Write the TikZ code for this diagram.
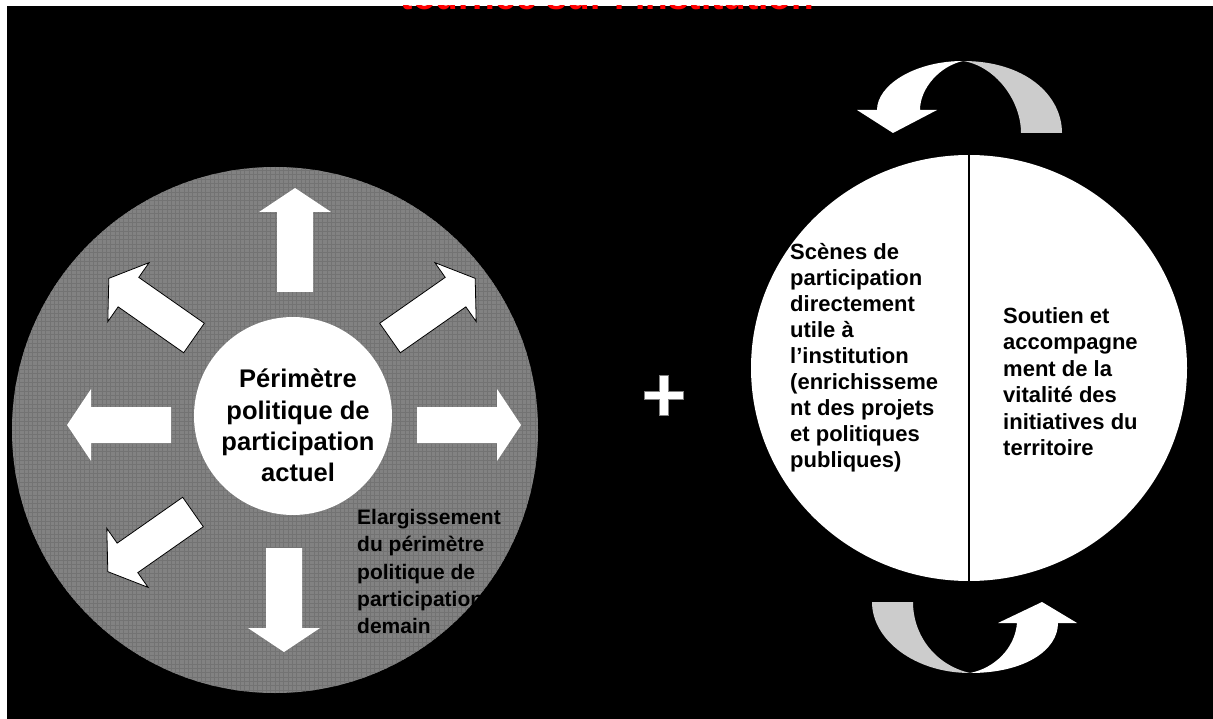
\documentclass[tikz,border=0pt]{standalone}
\usepackage{fontspec}
\setmainfont{Liberation Sans}
\usetikzlibrary{shapes.geometric}

\definecolor{ribbongray}{RGB}{204,204,204}
\definecolor{discgray}{RGB}{130,130,130}

% block arrow: base point, direction angle
\newcommand\outarrow[3][]{%
  \draw[blockarrow,#1,shift={#2},rotate=#3]
    (0,-18) -- (80,-18) -- (80,-36) -- (104,0) -- (80,36) -- (80,18) -- (0,18) -- cycle;}

\begin{document}
\begin{tikzpicture}[x=1pt,y=-1pt,
    blockarrow/.style={fill=white,draw=none},
    rimmed/.style={draw=black,line width=0.8pt},
    label/.style={font=\fontsize{22}{26}\selectfont\bfseries,align=left,inner sep=0pt,anchor=north west}]
    \useasboundingbox (0,0) rectangle (1213,719);
    \fill[white] (0,0) rectangle (1213,719);
    \fill[black] (7,6) rectangle (1213,719);

    % Title, cut by the top edge
    \begin{scope}
      \clip (7,6) rectangle (1213,719);
      \node[red,anchor=base,inner sep=0pt,font=\fontsize{37}{40}\selectfont\bfseries] (titre) at (607.5,10) {tournée sur l'institution};
    \end{scope}

    % Left disc
    \node[circle,minimum size=526pt,inner sep=0pt,fill=discgray,
      path picture={\draw[black!55,line width=0.5pt,step=4.33pt]
        (path picture bounding box.south west) grid (path picture bounding box.north east);}]
      (elargi) at (275,430) {};

    % Arrows around the centre
    \outarrow{(295,292)}{90}
    \outarrow{(284,548)}{270}
    \outarrow{(171,425)}{180}
    \outarrow{(417,425)}{0}
    \outarrow[rimmed]{(194,338)}{145}
    \outarrow[rimmed]{(390,338)}{35}
    \outarrow[rimmed]{(193,512)}{215}

    \node[circle,minimum size=198pt,inner sep=0pt,fill=white] (actuel) at (293,416) {};
    \node[label,anchor=center,align=center,font=\fontsize{25.5}{31.3}\selectfont\bfseries]
      (perimetre) at (298,425.5) {Périmètre\\politique de\\participation\\actuel};
    \node[label,font=\fontsize{21}{27.3}\selectfont\bfseries] (demain) at (357,509)
      {Elargissement\\du périmètre\\politique de\\participation\\demain};

    % Plus
    \draw[draw=gray,fill=white,line width=0.6pt] (659,375) -- (668,375) -- (668,391) -- (683,391)
      -- (683,399) -- (668,399) -- (668,415) -- (659,415) -- (659,399) -- (644,399)
      -- (644,391) -- (659,391) -- cycle;

    % Right disc
    \node[ellipse,minimum width=436pt,minimum height=426pt,inner sep=0pt,fill=white] (partage) at (969,368) {};
    \draw[line width=1.2pt] (partage.north) -- (partage.south);
    \node[label] (scenes) at (790,243.5)
      {Scènes de\\participation\\directement\\utile à\\l'institution\\(enrichisseme\\nt des projets\\et politiques\\publiques)};
    \node[label,font=\fontsize{22}{26.5}\selectfont\bfseries] (soutien) at (1003,307)
      {Soutien et\\accompagne\\ment de la\\vitalité des\\initiatives du\\territoire};

    % Curved arrows
    \fill[ribbongray] (963,61) .. controls (1025,61) and (1062,95) .. (1062,133) -- (1021,133)
      .. controls (1021,100) and (995,66) .. (963,61) -- cycle;
    \fill[white] (963,61) .. controls (915,61) and (877,85) .. (877,110) -- (857,110) -- (893,133)
      -- (937,110) -- (920,110) .. controls (920,88) and (940,66) .. (963,61) -- cycle;
    \fill[ribbongray] (872,602) -- (913,602) .. controls (913,635) and (935,665) .. (970,673)
      .. controls (915,673) and (872,640) .. (872,602) -- cycle;
    \fill[white] (970,673) .. controls (1025,673) and (1058,650) .. (1058,623) -- (1077,623) -- (1042,602)
      -- (998,623) -- (1017,623) .. controls (1015,648) and (995,668) .. (970,673) -- cycle;
\end{tikzpicture}
\end{document}
